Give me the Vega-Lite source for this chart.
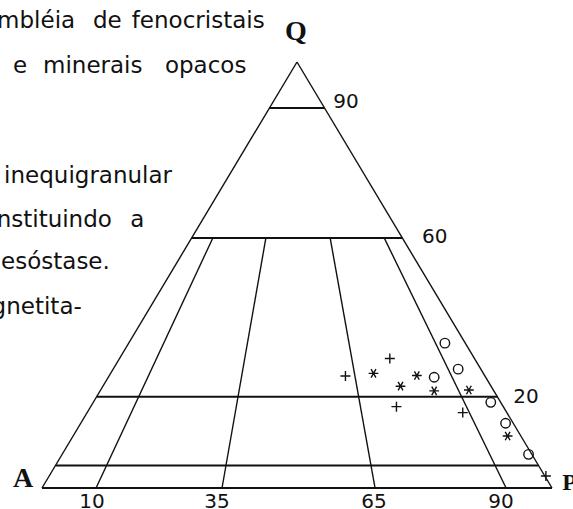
{
  "$schema": "https://vega.github.io/schema/vega-lite/v6.json",
  "width": 573,
  "height": 509,
  "autosize": "none",
  "padding": 0,
  "background": "white",
  "config": {"view": {"stroke": null}},
  "datasets": {
    "linhas_finas": [
      {"x": 0, "y": 0, "x2": 50, "y2": 100},
      {"x": 100, "y": 0, "x2": 50, "y2": 100},
      {"x": 10.6, "y": 0, "x2": 33.5, "y2": 58.7},
      {"x": 35.3, "y": 0, "x2": 43.9, "y2": 58.7},
      {"x": 65.3, "y": 0, "x2": 56.5, "y2": 58.7},
      {"x": 91.0, "y": 0, "x2": 67.1, "y2": 58.7}
    ],
    "linhas_grossas": [
      {"x": 0, "y": 0, "x2": 100, "y2": 0},
      {"x": 2.65, "y": 5.3, "x2": 97.35, "y2": 5.3},
      {"x": 10.7, "y": 21.4, "x2": 89.3, "y2": 21.4},
      {"x": 29.35, "y": 58.7, "x2": 70.65, "y2": 58.7},
      {"x": 44.6, "y": 89.2, "x2": 55.4, "y2": 89.2}
    ],
    "amostras": [
      {"x": 59.5, "y": 26.3, "simbolo": "mais"},
      {"x": 68.2, "y": 30.4, "simbolo": "mais"},
      {"x": 69.5, "y": 19.1, "simbolo": "mais"},
      {"x": 82.5, "y": 17.7, "simbolo": "mais"},
      {"x": 98.8, "y": 2.8, "simbolo": "mais"},
      {"x": 65.0, "y": 26.9, "simbolo": "asterisco"},
      {"x": 70.3, "y": 23.9, "simbolo": "asterisco"},
      {"x": 73.5, "y": 26.4, "simbolo": "asterisco"},
      {"x": 76.9, "y": 22.8, "simbolo": "asterisco"},
      {"x": 83.7, "y": 23.0, "simbolo": "asterisco"},
      {"x": 91.3, "y": 12.2, "simbolo": "asterisco"},
      {"x": 79.0, "y": 34.0, "simbolo": "circulo"},
      {"x": 81.6, "y": 27.9, "simbolo": "circulo"},
      {"x": 76.9, "y": 26.0, "simbolo": "circulo"},
      {"x": 88.0, "y": 20.1, "simbolo": "circulo"},
      {"x": 90.9, "y": 15.2, "simbolo": "circulo"},
      {"x": 95.4, "y": 7.9, "simbolo": "circulo"}
    ],
    "vertices": [
      {"x": 49.8, "y": 105.2, "texto": "Q"},
      {"x": -3.7, "y": 0.2, "texto": "A"}
    ],
    "vertice_p": [
      {"x": 102.0, "y": -0.5, "texto": "P"}
    ],
    "numeros_lado": [
      {"x": 57.1, "y": 89.2, "texto": "90"},
      {"x": 74.5, "y": 57.5, "texto": "60"},
      {"x": 92.4, "y": 20.0, "texto": "20"}
    ],
    "numeros_base": [
      {"x": 9.8, "y": -4.7, "texto": "10"},
      {"x": 34.3, "y": -4.7, "texto": "35"},
      {"x": 65.1, "y": -4.7, "texto": "65"},
      {"x": 90.0, "y": -4.7, "texto": "90"}
    ],
    "texto_dir": [
      {"x": 6.5, "y": 108.0, "texto": "mbléia"},
      {"x": 25.5, "y": 71.6, "texto": "inequigranular"},
      {"x": 13.7, "y": 61.3, "texto": "nstituindo"},
      {"x": 13.3, "y": 51.4, "texto": "esóstase."},
      {"x": 7.8, "y": 40.8, "texto": "gnetita-"}
    ],
    "texto_esq": [
      {"x": 10.0, "y": 108.0, "texto": "de"},
      {"x": 17.6, "y": 108.0, "texto": "fenocristais"},
      {"x": -5.7, "y": 97.4, "texto": "e"},
      {"x": 0.2, "y": 97.4, "texto": "minerais"},
      {"x": 24.1, "y": 97.4, "texto": "opacos"},
      {"x": 17.3, "y": 61.3, "texto": "a"}
    ]
  },
  "encoding": {
    "x": {"field": "x", "type": "quantitative", "axis": null, "scale": {"domain": [-8.235, 104.118], "nice": false, "zero": false}},
    "y": {"field": "y", "type": "quantitative", "axis": null, "scale": {"domain": [-4.93, 114.55], "nice": false, "zero": false}}
  },
  "layer": [
    {
      "data": {"name": "linhas_finas"},
      "mark": {"type": "rule", "color": "#111111", "strokeWidth": 1.4},
      "encoding": {"x2": {"field": "x2"}, "y2": {"field": "y2"}}
    },
    {
      "data": {"name": "linhas_grossas"},
      "mark": {"type": "rule", "color": "#111111", "strokeWidth": 2},
      "encoding": {"x2": {"field": "x2"}, "y2": {"field": "y2"}}
    },
    {
      "data": {"name": "amostras"},
      "mark": {"type": "point", "filled": false, "color": "#111111", "strokeWidth": 1.4, "opacity": 1},
      "encoding": {
        "shape": {"field": "simbolo", "type": "nominal", "legend": null,
          "scale": {"domain": ["mais", "asterisco", "circulo"],
                    "range": ["M-1,0L1,0M0,-1L0,1", "M-1,0L1,0M-0.5,-0.87L0.5,0.87M-0.5,0.87L0.5,-0.87", "circle"]}},
        "size": {"field": "simbolo", "type": "nominal", "legend": null,
          "scale": {"domain": ["mais", "asterisco", "circulo"], "range": [100, 90, 64]}}
      }
    },
    {
      "data": {"name": "vertices"},
      "mark": {"type": "text", "font": "Liberation Serif", "fontWeight": "bold", "fontSize": 28, "align": "center", "baseline": "alphabetic", "color": "#111111"},
      "encoding": {"text": {"field": "texto"}}
    },
    {
      "data": {"name": "vertice_p"},
      "mark": {"type": "text", "font": "Liberation Serif", "fontWeight": "bold", "fontSize": 24, "align": "left", "baseline": "alphabetic", "color": "#111111"},
      "encoding": {"text": {"field": "texto"}}
    },
    {
      "data": {"name": "numeros_lado"},
      "mark": {"type": "text", "font": "DejaVu Sans", "fontSize": 20, "align": "left", "baseline": "alphabetic", "color": "#111111"},
      "encoding": {"text": {"field": "texto"}}
    },
    {
      "data": {"name": "numeros_base"},
      "mark": {"type": "text", "font": "DejaVu Sans", "fontSize": 20, "align": "center", "baseline": "alphabetic", "color": "#111111"},
      "encoding": {"text": {"field": "texto"}}
    },
    {
      "data": {"name": "texto_dir"},
      "mark": {"type": "text", "font": "DejaVu Sans", "fontSize": 23, "align": "right", "baseline": "alphabetic", "color": "#111111"},
      "encoding": {"text": {"field": "texto"}}
    },
    {
      "data": {"name": "texto_esq"},
      "mark": {"type": "text", "font": "DejaVu Sans", "fontSize": 23, "align": "left", "baseline": "alphabetic", "color": "#111111"},
      "encoding": {"text": {"field": "texto"}}
    }
  ]
}
